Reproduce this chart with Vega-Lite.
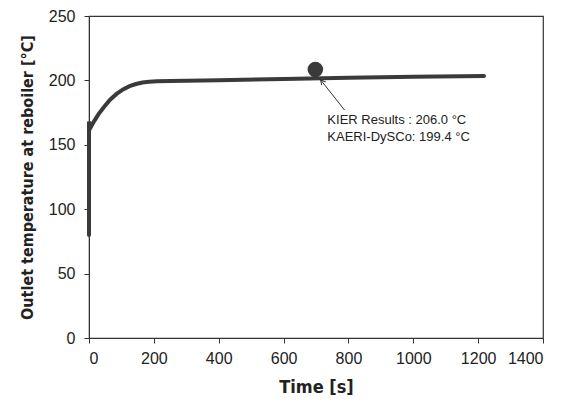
{
  "$schema": "https://vega.github.io/schema/vega-lite/v6.json",
  "width": 454,
  "height": 322,
  "autosize": {"type": "none"},
  "padding": {"left": 89, "top": 16, "right": 21, "bottom": 72},
  "background": "white",
  "config": {
    "view": {"stroke": "#333", "strokeWidth": 1.2},
    "font": "Liberation Sans",
    "axis": {
      "grid": false,
      "domainColor": "#333",
      "tickColor": "#333",
      "labelColor": "#222",
      "titleColor": "#222",
      "labelFont": "Liberation Sans",
      "labelFontSize": 16,
      "titleFont": "DejaVu Sans Condensed",
      "titleFontSize": 16,
      "titleFontWeight": "bold",
      "tickSize": 5
    }
  },
  "datasets": {
    "sim": [
      {"t": 0, "T": 80},
      {"t": 0, "T": 168},
      {"t": 4, "T": 163},
      {"t": 15, "T": 168},
      {"t": 30, "T": 174},
      {"t": 45, "T": 179},
      {"t": 65, "T": 185},
      {"t": 85, "T": 189.5},
      {"t": 105, "T": 193},
      {"t": 125, "T": 195.5},
      {"t": 145, "T": 197.2},
      {"t": 165, "T": 198.3},
      {"t": 185, "T": 198.9},
      {"t": 210, "T": 199.3},
      {"t": 250, "T": 199.6},
      {"t": 400, "T": 200.2},
      {"t": 600, "T": 201},
      {"t": 800, "T": 202},
      {"t": 1000, "T": 202.8},
      {"t": 1218, "T": 203.5}
    ],
    "exp": [{"t": 698, "T": 208.5}],
    "arrow": [
      {"t": 714, "T": 200.5},
      {"t": 788, "T": 177}
    ],
    "head": [{"t": 714, "T": 200.5}],
    "labels": [
      {"t": 735, "T": 169, "label": "KIER Results  : 206.0 °C"},
      {"t": 735, "T": 156, "label": "KAERI-DySCo: 199.4 °C"}
    ]
  },
  "layer": [
    {
      "data": {"name": "sim"},
      "mark": {"type": "line", "color": "#3a3a3a", "strokeWidth": 4, "strokeCap": "round"},
      "encoding": {
        "x": {"field": "t", "type": "quantitative", "scale": {"domain": [0, 1400], "nice": false},
          "axis": {"values": [0, 200, 400, 600, 800, 1000, 1200, 1400], "format": "d", "title": "Time [s]", "labelPadding": 7, "titlePadding": 12, "titleFontSize": 18}},
        "y": {"field": "T", "type": "quantitative", "scale": {"domain": [0, 250], "nice": false},
          "axis": {"values": [0, 50, 100, 150, 200, 250], "format": "d", "title": "Outlet temperature at reboiler [°C]", "labelPadding": 9, "titlePadding": 13}}
      }
    },
    {
      "data": {"name": "arrow"},
      "mark": {"type": "line", "color": "#333", "strokeWidth": 1},
      "encoding": {
        "x": {"field": "t", "type": "quantitative"},
        "y": {"field": "T", "type": "quantitative"}
      }
    },
    {
      "data": {"name": "head"},
      "mark": {"type": "point", "shape": "M-0.5,1L0,0L0.5,1", "angle": -39, "size": 100, "stroke": "#333", "strokeWidth": 1, "filled": false, "opacity": 1},
      "encoding": {
        "x": {"field": "t", "type": "quantitative"},
        "y": {"field": "T", "type": "quantitative"}
      }
    },
    {
      "data": {"name": "exp"},
      "mark": {"type": "point", "shape": "circle", "filled": true, "size": 240, "color": "#3a3a3a", "opacity": 1},
      "encoding": {
        "x": {"field": "t", "type": "quantitative"},
        "y": {"field": "T", "type": "quantitative"}
      }
    },
    {
      "data": {"name": "labels"},
      "mark": {"type": "text", "align": "left", "baseline": "middle", "fontSize": 13, "color": "#222", "font": "Liberation Sans"},
      "encoding": {
        "x": {"field": "t", "type": "quantitative"},
        "y": {"field": "T", "type": "quantitative"},
        "text": {"field": "label"}
      }
    }
  ]
}
